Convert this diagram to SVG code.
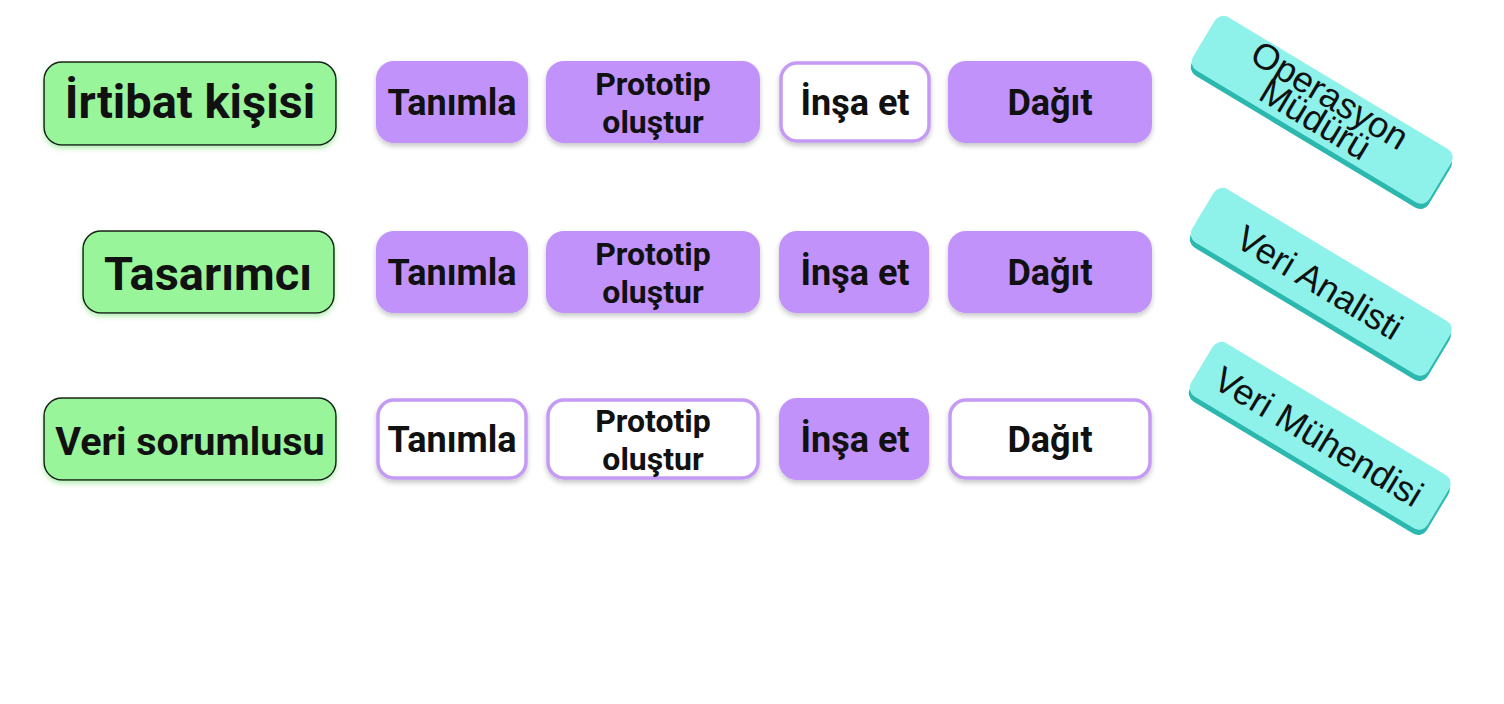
<svg xmlns="http://www.w3.org/2000/svg" width="1504" height="704" viewBox="0 0 1504 704">
<defs>
<filter id="sh" x="-10%" y="-10%" width="120%" height="140%"><feDropShadow dx="0" dy="3" stdDeviation="2.5" flood-color="#000" flood-opacity="0.22"/></filter>
<filter id="gs" x="-10%" y="-10%" width="120%" height="140%"><feDropShadow dx="0" dy="3" stdDeviation="2.5" flood-color="#6fe06f" flood-opacity="0.5"/></filter>
<style>
.role{fill:#98f59a;stroke:#1a1a1a;stroke-width:1.5}
.rt{font-family:Roboto,"Liberation Sans",sans-serif;font-weight:700;fill:#111;text-anchor:middle}
.on{fill:#c292fb}
.off{fill:#fff;stroke:#c49af5;stroke-width:3.5}
.st{font-family:Roboto,"Liberation Sans",sans-serif;font-weight:700;font-size:36px;fill:#111;text-anchor:middle}
.pt{font-family:Roboto,"Liberation Sans",sans-serif;font-weight:700;font-size:32px;fill:#111;text-anchor:middle}
.tf{fill:#8ef2ea}
.te{fill:#2cb8ae}
.tt{font-family:"Liberation Sans",Arial,sans-serif;font-size:36px;fill:#111;text-anchor:middle}
</style>
</defs>
<rect width="1504" height="704" fill="#fff"/>
<g id="role-irtibat"><rect class="role" x="44" y="62" width="292" height="83" rx="18" filter="url(#gs)"/><text class="rt" x="190" y="118" font-size="47">İrtibat kişisi</text></g>
<g id="role-tasarimci"><rect class="role" x="83" y="231" width="251" height="82" rx="18" filter="url(#gs)"/><text class="rt" x="208" y="290" font-size="47">Tasarımcı</text></g>
<g id="role-veri"><rect class="role" x="44" y="398" width="292" height="82" rx="18" filter="url(#gs)"/><text class="rt" x="190" y="455" font-size="39.5">Veri sorumlusu</text></g>

<g id="r1-tanimla"><rect class="on" x="376" y="61" width="152" height="82" rx="18" filter="url(#sh)"/><text class="st" x="452" y="115">Tanımla</text></g>
<g id="r1-prototip"><rect class="on" x="546" y="61" width="214" height="82" rx="18" filter="url(#sh)"/><text class="pt" x="653" y="95">Prototip</text><text class="pt" x="653" y="133">oluştur</text></g>
<g id="r1-insa"><rect class="off" x="781" y="63" width="148" height="78" rx="16" filter="url(#sh)"/><text class="st" x="855" y="115">İnşa et</text></g>
<g id="r1-dagit"><rect class="on" x="948" y="61" width="204" height="82" rx="18" filter="url(#sh)"/><text class="st" x="1050" y="115">Dağıt</text></g>

<g id="r2-tanimla"><rect class="on" x="376" y="231" width="152" height="82" rx="18" filter="url(#sh)"/><text class="st" x="452" y="285">Tanımla</text></g>
<g id="r2-prototip"><rect class="on" x="546" y="231" width="214" height="82" rx="18" filter="url(#sh)"/><text class="pt" x="653" y="265">Prototip</text><text class="pt" x="653" y="303">oluştur</text></g>
<g id="r2-insa"><rect class="on" x="779" y="231" width="150" height="82" rx="18" filter="url(#sh)"/><text class="st" x="855" y="285">İnşa et</text></g>
<g id="r2-dagit"><rect class="on" x="948" y="231" width="204" height="82" rx="18" filter="url(#sh)"/><text class="st" x="1050" y="285">Dağıt</text></g>

<g id="r3-tanimla"><rect class="off" x="378" y="400" width="148" height="78" rx="16" filter="url(#sh)"/><text class="st" x="452" y="452">Tanımla</text></g>
<g id="r3-prototip"><rect class="off" x="548" y="400" width="210" height="78" rx="16" filter="url(#sh)"/><text class="pt" x="653" y="432">Prototip</text><text class="pt" x="653" y="470">oluştur</text></g>
<g id="r3-insa"><rect class="on" x="779" y="398" width="150" height="82" rx="18" filter="url(#sh)"/><text class="st" x="855" y="452">İnşa et</text></g>
<g id="r3-dagit"><rect class="off" x="950" y="400" width="200" height="78" rx="16" filter="url(#sh)"/><text class="st" x="1050" y="452">Dağıt</text></g>

<g id="t-operasyon" transform="translate(1322,112) rotate(31)">
<rect class="te" x="-137" y="-28" width="276" height="62" rx="10"/>
<rect class="tf" x="-139" y="-33" width="276" height="62" rx="10"/>
<text class="tt" x="-2" y="-6">Operasyon</text><text class="tt" x="-2" y="22">Müdürü</text>
</g>
<g id="t-analist" transform="translate(1321,284) rotate(31)">
<rect class="te" x="-137" y="-28" width="276" height="62" rx="10"/>
<rect class="tf" x="-139" y="-33" width="276" height="62" rx="10"/>
<text class="tt" x="-2" y="12">Veri Analisti</text>
</g>
<g id="t-muhendis" transform="translate(1320,438) rotate(31)">
<rect class="te" x="-137" y="-28" width="276" height="62" rx="10"/>
<rect class="tf" x="-139" y="-33" width="276" height="62" rx="10"/>
<text class="tt" x="-2" y="12">Veri Mühendisi</text>
</g>
<g id="connectors"/>
</svg>
